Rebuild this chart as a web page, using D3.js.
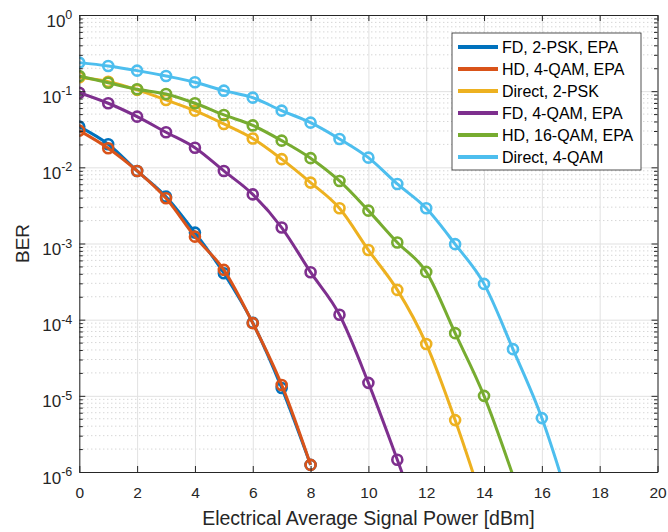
<!DOCTYPE html>
<html>
<head>
<meta charset="utf-8">
<script src="https://cdn.jsdelivr.net/npm/d3@7"></script>
<style>
  body { margin: 0; background: #fff; }
  svg { font-family: "Liberation Sans", Arial, Helvetica, sans-serif; }
</style>
</head>
<body>
<div id="chart"></div>
<script>
// x values (electrical average signal power, dBm)
var power = [0, 1, 2, 3, 4, 5, 6, 7, 8, 9, 10, 11, 12, 13, 14, 15, 16, 17];

// BER for each curve
var berFD2PSK     = [0.0342, 0.0201, 0.00897, 0.00412, 0.00139, 4.07e-4, 9.1e-5, 1.27e-5, 1.24e-6];
var berHD4QAM     = [0.0303, 0.0178, 0.00897, 0.00393, 0.00123, 4.5e-4, 9.0e-5, 1.39e-5, 1.24e-6];
var berDirect2PSK = [0.152, 0.133, 0.104, 0.0767, 0.0555, 0.0371, 0.0239, 0.0128, 0.0063, 0.0029, 8.2e-4, 2.46e-4, 4.8e-5, 4.8e-6, 3.5e-7];
var berFD4QAM     = [0.0955, 0.0694, 0.0463, 0.0289, 0.0181, 0.00897, 0.00441, 0.00162, 4.2e-4, 1.16e-4, 1.48e-5, 1.45e-6, 1.3e-7];
var berHD16QAM    = [0.158, 0.129, 0.106, 0.0919, 0.0694, 0.0487, 0.0355, 0.0224, 0.0132, 0.00663, 0.0027, 0.00103, 4.24e-4, 6.65e-5, 1.0e-5, 9e-7];
var berDirect4QAM = [0.237, 0.214, 0.186, 0.158, 0.131, 0.1015, 0.0822, 0.0555, 0.0386, 0.0236, 0.0134, 0.00605, 0.0029, 9.8e-4, 2.95e-4, 4.1e-5, 5.1e-6, 3.4e-7];

var seriesNames = ["FD, 2-PSK, EPA", "HD, 4-QAM, EPA", "Direct, 2-PSK", "FD, 4-QAM, EPA", "HD, 16-QAM, EPA", "Direct, 4-QAM"];
var seriesValues = [berFD2PSK, berHD4QAM, berDirect2PSK, berFD4QAM, berHD16QAM, berDirect4QAM];
var colors = ["#0072BD", "#D95319", "#EDB120", "#7E2F8E", "#77AC30", "#4DBEEE"];

var xTicks = [0, 2, 4, 6, 8, 10, 12, 14, 16, 18, 20];
var yExponents = [-6, -5, -4, -3, -2, -1, 0];

function init() {
    var margin = { top: 15, right: 10.5, bottom: 60, left: 79.3 },
        width = 668 - margin.left - margin.right,
        height = 532 - margin.top - margin.bottom;

    var axisColor = "#262626";
    var gridColor = "#e1e1e1";

    var svg = d3.select("#chart")
        .append("svg")
        .attr("width", 668)
        .attr("height", 532)
        .append("g")
        .attr("transform", "translate(" + margin.left + "," + margin.top + ")");

    var x = d3.scaleLinear().domain([0, 20]).range([0, width]);
    var y = d3.scaleLog().domain([1e-6, 1]).range([height, 0]);

    var majorY = yExponents.map(function (e) { return Math.pow(10, e); });
    var minorY = [];
    yExponents.slice(0, -1).forEach(function (e) {
        for (var k = 2; k <= 9; k++) minorY.push(k * Math.pow(10, e));
    });

    // minor grid (dotted, horizontal only)
    svg.append("g")
        .selectAll("line")
        .data(minorY)
        .enter().append("line")
        .attr("x1", 0).attr("x2", width)
        .attr("y1", function (d) { return y(d); })
        .attr("y2", function (d) { return y(d); })
        .style("stroke", "#c4c4c4")
        .style("stroke-width", 1)
        .style("stroke-dasharray", "1,3");

    // major grid
    svg.append("g")
        .style("color", gridColor)
        .call(d3.axisBottom(x).tickValues(xTicks).tickSize(height).tickFormat(""))
        .call(function (g) { g.select(".domain").remove(); });
    svg.append("g")
        .style("color", gridColor)
        .call(d3.axisLeft(y).tickValues(majorY).tickSize(-width).tickFormat(""))
        .call(function (g) { g.select(".domain").remove(); });

    // curves
    svg.append("clipPath").attr("id", "clip")
        .append("rect").attr("width", width).attr("height", height);

    var line = d3.line()
        .x(function (d) { return x(d.p); })
        .y(function (d) { return y(d.v); })
        .curve(d3.curveMonotoneX);

    var plot = svg.append("g").attr("clip-path", "url(#clip)");

    seriesValues.forEach(function (vals, i) {
        var pts = vals.map(function (v, j) { return { p: power[j], v: v }; });
        var g = plot.append("g");
        g.append("path")
            .datum(pts)
            .attr("d", line)
            .style("fill", "none")
            .style("stroke", colors[i])
            .style("stroke-width", 3);
        g.selectAll("circle")
            .data(pts.filter(function (d) { return d.v >= 1e-6; }))
            .enter().append("circle")
            .attr("cx", function (d) { return x(d.p); })
            .attr("cy", function (d) { return y(d.v); })
            .attr("r", 5)
            .style("fill", "none")
            .style("stroke", colors[i])
            .style("stroke-width", 2.6);
    });

    // axes with inward ticks, box on
    var xAxis = svg.append("g")
        .style("color", axisColor)
        .attr("transform", "translate(0," + height + ")")
        .call(d3.axisBottom(x).tickValues(xTicks).tickSizeInner(-6).tickSizeOuter(0).tickPadding(15));
    xAxis.selectAll("text").style("font-size", "15.5px");

    svg.append("g")
        .style("color", axisColor)
        .call(d3.axisTop(x).tickValues(xTicks).tickSizeInner(-6).tickSizeOuter(0).tickFormat(""));

    var yAxis = svg.append("g")
        .style("color", axisColor)
        .call(d3.axisLeft(y).tickValues(majorY).tickSizeInner(-6).tickSizeOuter(0).tickPadding(7));
    yAxis.selectAll(".tick text")
        .text(null)
        .style("font-size", "17px")
        .attr("dy", "11px")
        .each(function (d) {
            var t = d3.select(this);
            t.append("tspan").text("10");
            t.append("tspan")
                .attr("dy", "-7.5px")
                .style("font-size", "12.5px")
                .text(Math.round(Math.log10(d)));
        });

    svg.append("g")
        .style("color", axisColor)
        .attr("transform", "translate(" + width + ",0)")
        .call(d3.axisRight(y).tickValues(majorY).tickSizeInner(-6).tickSizeOuter(0).tickFormat(""));

    // minor y ticks on both sides
    svg.append("g")
        .style("color", axisColor)
        .call(d3.axisLeft(y).tickValues(minorY).tickSizeInner(-3.5).tickSizeOuter(0).tickFormat(""))
        .call(function (g) { g.select(".domain").remove(); });
    svg.append("g")
        .style("color", axisColor)
        .attr("transform", "translate(" + width + ",0)")
        .call(d3.axisRight(y).tickValues(minorY).tickSizeInner(-3.5).tickSizeOuter(0).tickFormat(""))
        .call(function (g) { g.select(".domain").remove(); });

    // axis labels
    svg.append("text")
        .attr("x", width / 2)
        .attr("y", height + 53)
        .style("text-anchor", "middle")
        .style("font-size", "19.5px")
        .style("fill", axisColor)
        .text("Electrical Average Signal Power [dBm]");

    svg.append("text")
        .attr("transform", "rotate(-90)")
        .attr("x", -228.5)
        .attr("y", -50)
        .style("text-anchor", "middle")
        .style("font-size", "19px")
        .style("fill", axisColor)
        .text("BER");

    // legend
    var legend = svg.append("g")
        .attr("transform", "translate(" + (452 - margin.left) + "," + (33 - margin.top) + ")");
    legend.append("rect")
        .attr("width", 189)
        .attr("height", 137)
        .style("fill", "#fff")
        .style("stroke", axisColor)
        .style("stroke-width", 0.8);

    var item = legend.selectAll(".legend")
        .data(seriesNames)
        .enter().append("g")
        .attr("class", "legend")
        .attr("transform", function (d, i) { return "translate(0," + (14 + i * 22) + ")"; });
    item.append("line")
        .attr("x1", 6).attr("x2", 46)
        .style("stroke", function (d, i) { return colors[i]; })
        .style("stroke-width", 4);
    item.append("text")
        .attr("x", 50)
        .attr("dy", "0.35em")
        .style("font-size", "16px")
        .style("fill", "#000")
        .text(function (d) { return d; });
}

window.onload = init;
</script>
</body>
</html>
